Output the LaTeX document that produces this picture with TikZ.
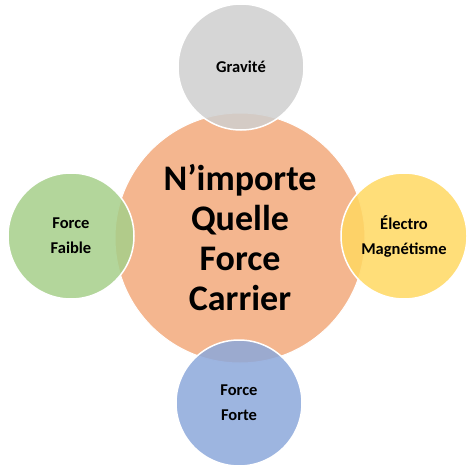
\documentclass[tikz,border=0pt]{standalone}
\usepackage{fontspec}
\setmainfont{Carlito}
\usepackage{tikz}
\usetikzlibrary{positioning}

\definecolor{carrier}{HTML}{F4B68F}
\definecolor{gravity}{HTML}{CFCFCF}
\definecolor{weak}{HTML}{A6CF8A}
\definecolor{electro}{HTML}{FFD862}
\definecolor{strong}{HTML}{8CA8DB}

\begin{document}
\begin{tikzpicture}[x=1pt,y=-1pt,
		petal/.style={draw=white,line width=1.5pt,circle,minimum size=126pt,inner sep=0pt,fill opacity=0.85,text opacity=1,align=center,font=\bfseries\fontsize{16.5}{25}\selectfont}]
		\useasboundingbox (0,0) rectangle (466,468);
		\node[fill = carrier, draw = white, line width = 1pt, circle, minimum size = 250pt, inner sep = 0pt, align = center, font = \bfseries\fontsize{36}{40}\selectfont] at (240,238) (c) {N’importe\\Quelle\\Force\\Carrier};
		\node[petal, fill = gravity] at (241,67) (g) {Gravité};
		\node[petal, fill = weak] at (71,236) (w) {Force\\Faible};
		\node[petal, fill = electro] at (404,236) (e) {Électro\\Magnétisme};
		\node[petal, fill = strong] at (239,403) (s) {Force\\Forte};
	\end{tikzpicture}
\end{document}
